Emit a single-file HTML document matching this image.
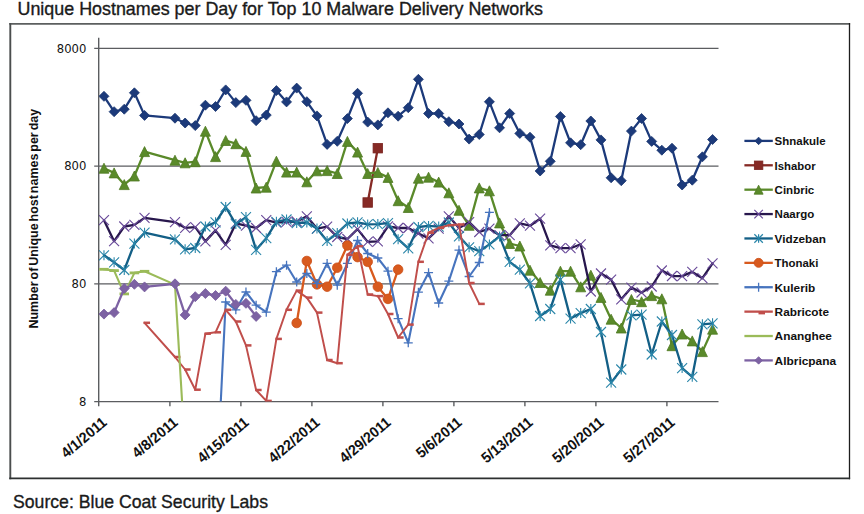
<!DOCTYPE html>
<html><head><meta charset="utf-8"><title>Unique Hostnames per Day</title>
<style>
html,body{margin:0;padding:0;background:#fff;}
body{width:864px;height:514px;overflow:hidden;position:relative;}
svg{position:absolute;left:0;top:0;display:block;}
.t{font-family:"Liberation Sans",Arial,sans-serif;fill:#1a1a1a;}
.yl{font-family:"DejaVu Sans","Liberation Sans",sans-serif;font-size:11.6px;fill:#111;}
.xl{font-family:"Liberation Sans",Arial,sans-serif;font-weight:bold;font-size:14.8px;fill:#111;}
.lg{font-family:"Liberation Sans",Arial,sans-serif;font-weight:bold;font-size:11.4px;fill:#111;}
.at{font-family:"Liberation Sans",Arial,sans-serif;font-weight:bold;font-size:13.6px;word-spacing:-1.6px;fill:#111;}
</style></head>
<body>
<svg width="864" height="514" viewBox="0 0 864 514">
<defs><clipPath id="pa"><rect x="99" y="30" width="620" height="371.6"/></clipPath></defs>
<text class="t" x="17.5" y="14.8" font-size="17.8" stroke="#1a1a1a" stroke-width="0.35" textLength="525.5" lengthAdjust="spacingAndGlyphs">Unique Hostnames per Day for Top 10 Malware Delivery Networks</text>
<line x1="9.3" y1="23.9" x2="850.1" y2="23.9" stroke="#5c5f5f" stroke-width="1.7"/>
<line x1="10.3" y1="23.1" x2="10.3" y2="479.2" stroke="#4b4e4e" stroke-width="1.9"/>
<line x1="849.5" y1="23.1" x2="849.5" y2="479.2" stroke="#1e1e1e" stroke-width="1.3"/>
<line x1="9.3" y1="478.4" x2="850.1" y2="478.4" stroke="#2d3030" stroke-width="1.6"/>
<line x1="94.2" y1="48.35" x2="718.5" y2="48.35" stroke="#5b5d60" stroke-width="1.4"/>
<line x1="94.2" y1="166.1" x2="718.5" y2="166.1" stroke="#5b5d60" stroke-width="1.4"/>
<line x1="94.2" y1="283.85" x2="718.5" y2="283.85" stroke="#5b5d60" stroke-width="1.4"/>
<line x1="94.2" y1="401.6" x2="718.5" y2="401.6" stroke="#5b5d60" stroke-width="1.4"/>
<line x1="98.7" y1="37.8" x2="98.7" y2="406.3" stroke="#5b5d60" stroke-width="1.4"/>
<line x1="169.9" y1="401.6" x2="169.9" y2="406.3" stroke="#5b5d60" stroke-width="1.4"/>
<line x1="240.9" y1="401.6" x2="240.9" y2="406.3" stroke="#5b5d60" stroke-width="1.4"/>
<line x1="311.9" y1="401.6" x2="311.9" y2="406.3" stroke="#5b5d60" stroke-width="1.4"/>
<line x1="382.9" y1="401.6" x2="382.9" y2="406.3" stroke="#5b5d60" stroke-width="1.4"/>
<line x1="453.9" y1="401.6" x2="453.9" y2="406.3" stroke="#5b5d60" stroke-width="1.4"/>
<line x1="524.9" y1="401.6" x2="524.9" y2="406.3" stroke="#5b5d60" stroke-width="1.4"/>
<line x1="595.9" y1="401.6" x2="595.9" y2="406.3" stroke="#5b5d60" stroke-width="1.4"/>
<line x1="666.9" y1="401.6" x2="666.9" y2="406.3" stroke="#5b5d60" stroke-width="1.4"/>
<g class="yl"><text x="86.3" y="52.55" text-anchor="end">8000</text><text x="86.3" y="170.3" text-anchor="end">800</text><text x="86.3" y="288.05" text-anchor="end">80</text><text x="86.3" y="405.8" text-anchor="end">8</text></g>
<text class="at" transform="translate(38.2 328.5) rotate(-90)" textLength="219.7" lengthAdjust="spacingAndGlyphs">Number of Unique host names per day</text>
<g class="xl"><text transform="translate(107.8 424) rotate(-40) scale(1 1.0)" text-anchor="end" textLength="54.1" lengthAdjust="spacingAndGlyphs">4/1/2011</text>
<text transform="translate(178.8 424) rotate(-40) scale(1 1.0)" text-anchor="end" textLength="54.1" lengthAdjust="spacingAndGlyphs">4/8/2011</text>
<text transform="translate(249.8 424) rotate(-40) scale(1 1.0)" text-anchor="end" textLength="61.83" lengthAdjust="spacingAndGlyphs">4/15/2011</text>
<text transform="translate(320.8 424) rotate(-40) scale(1 1.0)" text-anchor="end" textLength="61.83" lengthAdjust="spacingAndGlyphs">4/22/2011</text>
<text transform="translate(391.8 424) rotate(-40) scale(1 1.0)" text-anchor="end" textLength="61.83" lengthAdjust="spacingAndGlyphs">4/29/2011</text>
<text transform="translate(462.8 424) rotate(-40) scale(1 1.0)" text-anchor="end" textLength="54.1" lengthAdjust="spacingAndGlyphs">5/6/2011</text>
<text transform="translate(533.8 424) rotate(-40) scale(1 1.0)" text-anchor="end" textLength="61.83" lengthAdjust="spacingAndGlyphs">5/13/2011</text>
<text transform="translate(604.8 424) rotate(-40) scale(1 1.0)" text-anchor="end" textLength="61.83" lengthAdjust="spacingAndGlyphs">5/20/2011</text>
<text transform="translate(675.8 424) rotate(-40) scale(1 1.0)" text-anchor="end" textLength="61.83" lengthAdjust="spacingAndGlyphs">5/27/2011</text></g>
<g clip-path="url(#pa)"><polyline points="103.97,96.3 114.11,111.7 124.26,109.2 134.4,92.8 144.54,115.4 174.97,118.2 185.11,123 195.26,125.6 205.4,105.2 215.54,106.5 225.69,89.9 235.83,102.6 245.97,100.3 256.12,120.7 266.26,115.1 276.4,90.6 286.54,101.9 296.69,88.1 306.83,101.7 316.97,115.9 327.12,144.4 337.26,141.3 347.4,118.6 357.55,93.3 367.69,122.1 377.83,124.9 387.97,112.8 398.12,116.2 408.26,107.7 418.4,79.3 428.55,113.5 438.69,113.5 448.83,121.7 458.98,124 469.12,139.1 479.26,134.5 489.4,101.8 499.55,127.8 509.69,113.5 519.83,133.4 529.98,137.2 540.12,171 550.26,161.3 560.41,116.5 570.55,142.8 580.69,144.7 590.83,121 600.98,139.9 611.12,177.8 621.26,180.7 631.41,131.1 641.55,118.5 651.69,141.4 661.84,150.2 671.98,148.2 682.12,185 692.26,180.2 702.41,156.8 712.55,139.5" fill="none" stroke="#1c3a7a" stroke-width="2.3" stroke-linejoin="round" stroke-linecap="round"/><path d="M103.97 91.3L108.97 96.3L103.97 101.3L98.97 96.3Z" fill="#1c3a7a" stroke="#1a3670" stroke-width="0.8"/><path d="M114.11 106.7L119.11 111.7L114.11 116.7L109.11 111.7Z" fill="#1c3a7a" stroke="#1a3670" stroke-width="0.8"/><path d="M124.26 104.2L129.26 109.2L124.26 114.2L119.26 109.2Z" fill="#1c3a7a" stroke="#1a3670" stroke-width="0.8"/><path d="M134.4 87.8L139.4 92.8L134.4 97.8L129.4 92.8Z" fill="#1c3a7a" stroke="#1a3670" stroke-width="0.8"/><path d="M144.54 110.4L149.54 115.4L144.54 120.4L139.54 115.4Z" fill="#1c3a7a" stroke="#1a3670" stroke-width="0.8"/><path d="M174.97 113.2L179.97 118.2L174.97 123.2L169.97 118.2Z" fill="#1c3a7a" stroke="#1a3670" stroke-width="0.8"/><path d="M185.11 118L190.11 123L185.11 128L180.11 123Z" fill="#1c3a7a" stroke="#1a3670" stroke-width="0.8"/><path d="M195.26 120.6L200.26 125.6L195.26 130.6L190.26 125.6Z" fill="#1c3a7a" stroke="#1a3670" stroke-width="0.8"/><path d="M205.4 100.2L210.4 105.2L205.4 110.2L200.4 105.2Z" fill="#1c3a7a" stroke="#1a3670" stroke-width="0.8"/><path d="M215.54 101.5L220.54 106.5L215.54 111.5L210.54 106.5Z" fill="#1c3a7a" stroke="#1a3670" stroke-width="0.8"/><path d="M225.69 84.9L230.69 89.9L225.69 94.9L220.69 89.9Z" fill="#1c3a7a" stroke="#1a3670" stroke-width="0.8"/><path d="M235.83 97.6L240.83 102.6L235.83 107.6L230.83 102.6Z" fill="#1c3a7a" stroke="#1a3670" stroke-width="0.8"/><path d="M245.97 95.3L250.97 100.3L245.97 105.3L240.97 100.3Z" fill="#1c3a7a" stroke="#1a3670" stroke-width="0.8"/><path d="M256.12 115.7L261.12 120.7L256.12 125.7L251.12 120.7Z" fill="#1c3a7a" stroke="#1a3670" stroke-width="0.8"/><path d="M266.26 110.1L271.26 115.1L266.26 120.1L261.26 115.1Z" fill="#1c3a7a" stroke="#1a3670" stroke-width="0.8"/><path d="M276.4 85.6L281.4 90.6L276.4 95.6L271.4 90.6Z" fill="#1c3a7a" stroke="#1a3670" stroke-width="0.8"/><path d="M286.54 96.9L291.54 101.9L286.54 106.9L281.54 101.9Z" fill="#1c3a7a" stroke="#1a3670" stroke-width="0.8"/><path d="M296.69 83.1L301.69 88.1L296.69 93.1L291.69 88.1Z" fill="#1c3a7a" stroke="#1a3670" stroke-width="0.8"/><path d="M306.83 96.7L311.83 101.7L306.83 106.7L301.83 101.7Z" fill="#1c3a7a" stroke="#1a3670" stroke-width="0.8"/><path d="M316.97 110.9L321.97 115.9L316.97 120.9L311.97 115.9Z" fill="#1c3a7a" stroke="#1a3670" stroke-width="0.8"/><path d="M327.12 139.4L332.12 144.4L327.12 149.4L322.12 144.4Z" fill="#1c3a7a" stroke="#1a3670" stroke-width="0.8"/><path d="M337.26 136.3L342.26 141.3L337.26 146.3L332.26 141.3Z" fill="#1c3a7a" stroke="#1a3670" stroke-width="0.8"/><path d="M347.4 113.6L352.4 118.6L347.4 123.6L342.4 118.6Z" fill="#1c3a7a" stroke="#1a3670" stroke-width="0.8"/><path d="M357.55 88.3L362.55 93.3L357.55 98.3L352.55 93.3Z" fill="#1c3a7a" stroke="#1a3670" stroke-width="0.8"/><path d="M367.69 117.1L372.69 122.1L367.69 127.1L362.69 122.1Z" fill="#1c3a7a" stroke="#1a3670" stroke-width="0.8"/><path d="M377.83 119.9L382.83 124.9L377.83 129.9L372.83 124.9Z" fill="#1c3a7a" stroke="#1a3670" stroke-width="0.8"/><path d="M387.97 107.8L392.97 112.8L387.97 117.8L382.97 112.8Z" fill="#1c3a7a" stroke="#1a3670" stroke-width="0.8"/><path d="M398.12 111.2L403.12 116.2L398.12 121.2L393.12 116.2Z" fill="#1c3a7a" stroke="#1a3670" stroke-width="0.8"/><path d="M408.26 102.7L413.26 107.7L408.26 112.7L403.26 107.7Z" fill="#1c3a7a" stroke="#1a3670" stroke-width="0.8"/><path d="M418.4 74.3L423.4 79.3L418.4 84.3L413.4 79.3Z" fill="#1c3a7a" stroke="#1a3670" stroke-width="0.8"/><path d="M428.55 108.5L433.55 113.5L428.55 118.5L423.55 113.5Z" fill="#1c3a7a" stroke="#1a3670" stroke-width="0.8"/><path d="M438.69 108.5L443.69 113.5L438.69 118.5L433.69 113.5Z" fill="#1c3a7a" stroke="#1a3670" stroke-width="0.8"/><path d="M448.83 116.7L453.83 121.7L448.83 126.7L443.83 121.7Z" fill="#1c3a7a" stroke="#1a3670" stroke-width="0.8"/><path d="M458.98 119L463.98 124L458.98 129L453.98 124Z" fill="#1c3a7a" stroke="#1a3670" stroke-width="0.8"/><path d="M469.12 134.1L474.12 139.1L469.12 144.1L464.12 139.1Z" fill="#1c3a7a" stroke="#1a3670" stroke-width="0.8"/><path d="M479.26 129.5L484.26 134.5L479.26 139.5L474.26 134.5Z" fill="#1c3a7a" stroke="#1a3670" stroke-width="0.8"/><path d="M489.4 96.8L494.4 101.8L489.4 106.8L484.4 101.8Z" fill="#1c3a7a" stroke="#1a3670" stroke-width="0.8"/><path d="M499.55 122.8L504.55 127.8L499.55 132.8L494.55 127.8Z" fill="#1c3a7a" stroke="#1a3670" stroke-width="0.8"/><path d="M509.69 108.5L514.69 113.5L509.69 118.5L504.69 113.5Z" fill="#1c3a7a" stroke="#1a3670" stroke-width="0.8"/><path d="M519.83 128.4L524.83 133.4L519.83 138.4L514.83 133.4Z" fill="#1c3a7a" stroke="#1a3670" stroke-width="0.8"/><path d="M529.98 132.2L534.98 137.2L529.98 142.2L524.98 137.2Z" fill="#1c3a7a" stroke="#1a3670" stroke-width="0.8"/><path d="M540.12 166L545.12 171L540.12 176L535.12 171Z" fill="#1c3a7a" stroke="#1a3670" stroke-width="0.8"/><path d="M550.26 156.3L555.26 161.3L550.26 166.3L545.26 161.3Z" fill="#1c3a7a" stroke="#1a3670" stroke-width="0.8"/><path d="M560.41 111.5L565.41 116.5L560.41 121.5L555.41 116.5Z" fill="#1c3a7a" stroke="#1a3670" stroke-width="0.8"/><path d="M570.55 137.8L575.55 142.8L570.55 147.8L565.55 142.8Z" fill="#1c3a7a" stroke="#1a3670" stroke-width="0.8"/><path d="M580.69 139.7L585.69 144.7L580.69 149.7L575.69 144.7Z" fill="#1c3a7a" stroke="#1a3670" stroke-width="0.8"/><path d="M590.83 116L595.83 121L590.83 126L585.83 121Z" fill="#1c3a7a" stroke="#1a3670" stroke-width="0.8"/><path d="M600.98 134.9L605.98 139.9L600.98 144.9L595.98 139.9Z" fill="#1c3a7a" stroke="#1a3670" stroke-width="0.8"/><path d="M611.12 172.8L616.12 177.8L611.12 182.8L606.12 177.8Z" fill="#1c3a7a" stroke="#1a3670" stroke-width="0.8"/><path d="M621.26 175.7L626.26 180.7L621.26 185.7L616.26 180.7Z" fill="#1c3a7a" stroke="#1a3670" stroke-width="0.8"/><path d="M631.41 126.1L636.41 131.1L631.41 136.1L626.41 131.1Z" fill="#1c3a7a" stroke="#1a3670" stroke-width="0.8"/><path d="M641.55 113.5L646.55 118.5L641.55 123.5L636.55 118.5Z" fill="#1c3a7a" stroke="#1a3670" stroke-width="0.8"/><path d="M651.69 136.4L656.69 141.4L651.69 146.4L646.69 141.4Z" fill="#1c3a7a" stroke="#1a3670" stroke-width="0.8"/><path d="M661.84 145.2L666.84 150.2L661.84 155.2L656.84 150.2Z" fill="#1c3a7a" stroke="#1a3670" stroke-width="0.8"/><path d="M671.98 143.2L676.98 148.2L671.98 153.2L666.98 148.2Z" fill="#1c3a7a" stroke="#1a3670" stroke-width="0.8"/><path d="M682.12 180L687.12 185L682.12 190L677.12 185Z" fill="#1c3a7a" stroke="#1a3670" stroke-width="0.8"/><path d="M692.26 175.2L697.26 180.2L692.26 185.2L687.26 180.2Z" fill="#1c3a7a" stroke="#1a3670" stroke-width="0.8"/><path d="M702.41 151.8L707.41 156.8L702.41 161.8L697.41 156.8Z" fill="#1c3a7a" stroke="#1a3670" stroke-width="0.8"/><path d="M712.55 134.5L717.55 139.5L712.55 144.5L707.55 139.5Z" fill="#1c3a7a" stroke="#1a3670" stroke-width="0.8"/>
<polyline points="367.69,202.5 377.83,148.2" fill="none" stroke="#862a25" stroke-width="2.3" stroke-linejoin="round" stroke-linecap="round"/><rect x="362.94" y="197.75" width="9.5" height="9.5" fill="#862a25" stroke="#7a2420" stroke-width="0.8"/><rect x="373.08" y="143.45" width="9.5" height="9.5" fill="#862a25" stroke="#7a2420" stroke-width="0.8"/>
<polyline points="103.97,168.2 114.11,172.9 124.26,184.6 134.4,176 144.54,151.6 174.97,160.2 185.11,162.8 195.26,161.7 205.4,131.2 215.54,156.6 225.69,140.5 235.83,143.7 245.97,151.4 256.12,188 266.26,187.2 276.4,161.2 286.54,172.1 296.69,172.1 306.83,181.8 316.97,170.8 327.12,170.6 337.26,173.5 347.4,141.4 357.55,152.1 367.69,173.5 377.83,172.5 387.97,177.4 398.12,200.7 408.26,207.5 418.4,178.2 428.55,177.2 438.69,182.1 448.83,192.8 458.98,210.3 469.12,225.3 479.26,187.9 489.4,190.8 499.55,222.9 509.69,243.5 519.83,246 529.98,270.2 540.12,282.5 550.26,290.2 560.41,271.2 570.55,271.2 580.69,286.8 590.83,275.2 600.98,297.4 611.12,319.2 621.26,328 631.41,299.5 641.55,301.7 651.69,295.6 661.84,298.8 671.98,345.7 682.12,334 692.26,340.9 702.41,351.6 712.55,329.2" fill="none" stroke="#5a8a2a" stroke-width="2.3" stroke-linejoin="round" stroke-linecap="round"/><path d="M103.97 163.2L108.97 173.2L98.97 173.2Z" fill="#5a8a2a" stroke="#4f7a22" stroke-width="0.8" stroke-linejoin="round"/><path d="M114.11 167.9L119.11 177.9L109.11 177.9Z" fill="#5a8a2a" stroke="#4f7a22" stroke-width="0.8" stroke-linejoin="round"/><path d="M124.26 179.6L129.26 189.6L119.26 189.6Z" fill="#5a8a2a" stroke="#4f7a22" stroke-width="0.8" stroke-linejoin="round"/><path d="M134.4 171L139.4 181L129.4 181Z" fill="#5a8a2a" stroke="#4f7a22" stroke-width="0.8" stroke-linejoin="round"/><path d="M144.54 146.6L149.54 156.6L139.54 156.6Z" fill="#5a8a2a" stroke="#4f7a22" stroke-width="0.8" stroke-linejoin="round"/><path d="M174.97 155.2L179.97 165.2L169.97 165.2Z" fill="#5a8a2a" stroke="#4f7a22" stroke-width="0.8" stroke-linejoin="round"/><path d="M185.11 157.8L190.11 167.8L180.11 167.8Z" fill="#5a8a2a" stroke="#4f7a22" stroke-width="0.8" stroke-linejoin="round"/><path d="M195.26 156.7L200.26 166.7L190.26 166.7Z" fill="#5a8a2a" stroke="#4f7a22" stroke-width="0.8" stroke-linejoin="round"/><path d="M205.4 126.2L210.4 136.2L200.4 136.2Z" fill="#5a8a2a" stroke="#4f7a22" stroke-width="0.8" stroke-linejoin="round"/><path d="M215.54 151.6L220.54 161.6L210.54 161.6Z" fill="#5a8a2a" stroke="#4f7a22" stroke-width="0.8" stroke-linejoin="round"/><path d="M225.69 135.5L230.69 145.5L220.69 145.5Z" fill="#5a8a2a" stroke="#4f7a22" stroke-width="0.8" stroke-linejoin="round"/><path d="M235.83 138.7L240.83 148.7L230.83 148.7Z" fill="#5a8a2a" stroke="#4f7a22" stroke-width="0.8" stroke-linejoin="round"/><path d="M245.97 146.4L250.97 156.4L240.97 156.4Z" fill="#5a8a2a" stroke="#4f7a22" stroke-width="0.8" stroke-linejoin="round"/><path d="M256.12 183L261.12 193L251.12 193Z" fill="#5a8a2a" stroke="#4f7a22" stroke-width="0.8" stroke-linejoin="round"/><path d="M266.26 182.2L271.26 192.2L261.26 192.2Z" fill="#5a8a2a" stroke="#4f7a22" stroke-width="0.8" stroke-linejoin="round"/><path d="M276.4 156.2L281.4 166.2L271.4 166.2Z" fill="#5a8a2a" stroke="#4f7a22" stroke-width="0.8" stroke-linejoin="round"/><path d="M286.54 167.1L291.54 177.1L281.54 177.1Z" fill="#5a8a2a" stroke="#4f7a22" stroke-width="0.8" stroke-linejoin="round"/><path d="M296.69 167.1L301.69 177.1L291.69 177.1Z" fill="#5a8a2a" stroke="#4f7a22" stroke-width="0.8" stroke-linejoin="round"/><path d="M306.83 176.8L311.83 186.8L301.83 186.8Z" fill="#5a8a2a" stroke="#4f7a22" stroke-width="0.8" stroke-linejoin="round"/><path d="M316.97 165.8L321.97 175.8L311.97 175.8Z" fill="#5a8a2a" stroke="#4f7a22" stroke-width="0.8" stroke-linejoin="round"/><path d="M327.12 165.6L332.12 175.6L322.12 175.6Z" fill="#5a8a2a" stroke="#4f7a22" stroke-width="0.8" stroke-linejoin="round"/><path d="M337.26 168.5L342.26 178.5L332.26 178.5Z" fill="#5a8a2a" stroke="#4f7a22" stroke-width="0.8" stroke-linejoin="round"/><path d="M347.4 136.4L352.4 146.4L342.4 146.4Z" fill="#5a8a2a" stroke="#4f7a22" stroke-width="0.8" stroke-linejoin="round"/><path d="M357.55 147.1L362.55 157.1L352.55 157.1Z" fill="#5a8a2a" stroke="#4f7a22" stroke-width="0.8" stroke-linejoin="round"/><path d="M367.69 168.5L372.69 178.5L362.69 178.5Z" fill="#5a8a2a" stroke="#4f7a22" stroke-width="0.8" stroke-linejoin="round"/><path d="M377.83 167.5L382.83 177.5L372.83 177.5Z" fill="#5a8a2a" stroke="#4f7a22" stroke-width="0.8" stroke-linejoin="round"/><path d="M387.97 172.4L392.97 182.4L382.97 182.4Z" fill="#5a8a2a" stroke="#4f7a22" stroke-width="0.8" stroke-linejoin="round"/><path d="M398.12 195.7L403.12 205.7L393.12 205.7Z" fill="#5a8a2a" stroke="#4f7a22" stroke-width="0.8" stroke-linejoin="round"/><path d="M408.26 202.5L413.26 212.5L403.26 212.5Z" fill="#5a8a2a" stroke="#4f7a22" stroke-width="0.8" stroke-linejoin="round"/><path d="M418.4 173.2L423.4 183.2L413.4 183.2Z" fill="#5a8a2a" stroke="#4f7a22" stroke-width="0.8" stroke-linejoin="round"/><path d="M428.55 172.2L433.55 182.2L423.55 182.2Z" fill="#5a8a2a" stroke="#4f7a22" stroke-width="0.8" stroke-linejoin="round"/><path d="M438.69 177.1L443.69 187.1L433.69 187.1Z" fill="#5a8a2a" stroke="#4f7a22" stroke-width="0.8" stroke-linejoin="round"/><path d="M448.83 187.8L453.83 197.8L443.83 197.8Z" fill="#5a8a2a" stroke="#4f7a22" stroke-width="0.8" stroke-linejoin="round"/><path d="M458.98 205.3L463.98 215.3L453.98 215.3Z" fill="#5a8a2a" stroke="#4f7a22" stroke-width="0.8" stroke-linejoin="round"/><path d="M469.12 220.3L474.12 230.3L464.12 230.3Z" fill="#5a8a2a" stroke="#4f7a22" stroke-width="0.8" stroke-linejoin="round"/><path d="M479.26 182.9L484.26 192.9L474.26 192.9Z" fill="#5a8a2a" stroke="#4f7a22" stroke-width="0.8" stroke-linejoin="round"/><path d="M489.4 185.8L494.4 195.8L484.4 195.8Z" fill="#5a8a2a" stroke="#4f7a22" stroke-width="0.8" stroke-linejoin="round"/><path d="M499.55 217.9L504.55 227.9L494.55 227.9Z" fill="#5a8a2a" stroke="#4f7a22" stroke-width="0.8" stroke-linejoin="round"/><path d="M509.69 238.5L514.69 248.5L504.69 248.5Z" fill="#5a8a2a" stroke="#4f7a22" stroke-width="0.8" stroke-linejoin="round"/><path d="M519.83 241L524.83 251L514.83 251Z" fill="#5a8a2a" stroke="#4f7a22" stroke-width="0.8" stroke-linejoin="round"/><path d="M529.98 265.2L534.98 275.2L524.98 275.2Z" fill="#5a8a2a" stroke="#4f7a22" stroke-width="0.8" stroke-linejoin="round"/><path d="M540.12 277.5L545.12 287.5L535.12 287.5Z" fill="#5a8a2a" stroke="#4f7a22" stroke-width="0.8" stroke-linejoin="round"/><path d="M550.26 285.2L555.26 295.2L545.26 295.2Z" fill="#5a8a2a" stroke="#4f7a22" stroke-width="0.8" stroke-linejoin="round"/><path d="M560.41 266.2L565.41 276.2L555.41 276.2Z" fill="#5a8a2a" stroke="#4f7a22" stroke-width="0.8" stroke-linejoin="round"/><path d="M570.55 266.2L575.55 276.2L565.55 276.2Z" fill="#5a8a2a" stroke="#4f7a22" stroke-width="0.8" stroke-linejoin="round"/><path d="M580.69 281.8L585.69 291.8L575.69 291.8Z" fill="#5a8a2a" stroke="#4f7a22" stroke-width="0.8" stroke-linejoin="round"/><path d="M590.83 270.2L595.83 280.2L585.83 280.2Z" fill="#5a8a2a" stroke="#4f7a22" stroke-width="0.8" stroke-linejoin="round"/><path d="M600.98 292.4L605.98 302.4L595.98 302.4Z" fill="#5a8a2a" stroke="#4f7a22" stroke-width="0.8" stroke-linejoin="round"/><path d="M611.12 314.2L616.12 324.2L606.12 324.2Z" fill="#5a8a2a" stroke="#4f7a22" stroke-width="0.8" stroke-linejoin="round"/><path d="M621.26 323L626.26 333L616.26 333Z" fill="#5a8a2a" stroke="#4f7a22" stroke-width="0.8" stroke-linejoin="round"/><path d="M631.41 294.5L636.41 304.5L626.41 304.5Z" fill="#5a8a2a" stroke="#4f7a22" stroke-width="0.8" stroke-linejoin="round"/><path d="M641.55 296.7L646.55 306.7L636.55 306.7Z" fill="#5a8a2a" stroke="#4f7a22" stroke-width="0.8" stroke-linejoin="round"/><path d="M651.69 290.6L656.69 300.6L646.69 300.6Z" fill="#5a8a2a" stroke="#4f7a22" stroke-width="0.8" stroke-linejoin="round"/><path d="M661.84 293.8L666.84 303.8L656.84 303.8Z" fill="#5a8a2a" stroke="#4f7a22" stroke-width="0.8" stroke-linejoin="round"/><path d="M671.98 340.7L676.98 350.7L666.98 350.7Z" fill="#5a8a2a" stroke="#4f7a22" stroke-width="0.8" stroke-linejoin="round"/><path d="M682.12 329L687.12 339L677.12 339Z" fill="#5a8a2a" stroke="#4f7a22" stroke-width="0.8" stroke-linejoin="round"/><path d="M692.26 335.9L697.26 345.9L687.26 345.9Z" fill="#5a8a2a" stroke="#4f7a22" stroke-width="0.8" stroke-linejoin="round"/><path d="M702.41 346.6L707.41 356.6L697.41 356.6Z" fill="#5a8a2a" stroke="#4f7a22" stroke-width="0.8" stroke-linejoin="round"/><path d="M712.55 324.2L717.55 334.2L707.55 334.2Z" fill="#5a8a2a" stroke="#4f7a22" stroke-width="0.8" stroke-linejoin="round"/>
<polyline points="103.97,220.2 114.11,241.2 124.26,226.5 134.4,224.9 144.54,217.9 174.97,222.2 185.11,227.8 195.26,227.1 205.4,241.4 215.54,230.4 225.69,244.8 235.83,223.4 245.97,225.7 256.12,228 266.26,220.2 276.4,222.6 286.54,221.8 296.69,221.5 306.83,216.4 316.97,228.6 327.12,226.7 337.26,237 347.4,239 357.55,229.1 367.69,241.9 377.83,241.4 387.97,226.4 398.12,228 408.26,228 418.4,233.5 428.55,238.3 438.69,228.6 448.83,216.3 458.98,227.9 469.12,222.2 479.26,232 489.4,228.7 499.55,235.2 509.69,235.2 519.83,223.4 529.98,225.7 540.12,218.7 550.26,245.3 560.41,248.2 570.55,248.2 580.69,244.3 590.83,291.5 600.98,273.5 611.12,279.6 621.26,299.3 631.41,287.6 641.55,292.5 651.69,286.5 661.84,270.5 671.98,276 682.12,276.1 692.26,271.9 702.41,278.2 712.55,263.4" fill="none" stroke="#28174d" stroke-width="2.3" stroke-linejoin="round" stroke-linecap="round"/><path d="M98.97 215.2L108.97 225.2M108.97 215.2L98.97 225.2" stroke="#6a4b9a" stroke-width="1.15" fill="none"/><path d="M109.11 236.2L119.11 246.2M119.11 236.2L109.11 246.2" stroke="#6a4b9a" stroke-width="1.15" fill="none"/><path d="M119.26 221.5L129.26 231.5M129.26 221.5L119.26 231.5" stroke="#6a4b9a" stroke-width="1.15" fill="none"/><path d="M129.4 219.9L139.4 229.9M139.4 219.9L129.4 229.9" stroke="#6a4b9a" stroke-width="1.15" fill="none"/><path d="M139.54 212.9L149.54 222.9M149.54 212.9L139.54 222.9" stroke="#6a4b9a" stroke-width="1.15" fill="none"/><path d="M169.97 217.2L179.97 227.2M179.97 217.2L169.97 227.2" stroke="#6a4b9a" stroke-width="1.15" fill="none"/><path d="M180.11 222.8L190.11 232.8M190.11 222.8L180.11 232.8" stroke="#6a4b9a" stroke-width="1.15" fill="none"/><path d="M190.26 222.1L200.26 232.1M200.26 222.1L190.26 232.1" stroke="#6a4b9a" stroke-width="1.15" fill="none"/><path d="M200.4 236.4L210.4 246.4M210.4 236.4L200.4 246.4" stroke="#6a4b9a" stroke-width="1.15" fill="none"/><path d="M210.54 225.4L220.54 235.4M220.54 225.4L210.54 235.4" stroke="#6a4b9a" stroke-width="1.15" fill="none"/><path d="M220.69 239.8L230.69 249.8M230.69 239.8L220.69 249.8" stroke="#6a4b9a" stroke-width="1.15" fill="none"/><path d="M230.83 218.4L240.83 228.4M240.83 218.4L230.83 228.4" stroke="#6a4b9a" stroke-width="1.15" fill="none"/><path d="M240.97 220.7L250.97 230.7M250.97 220.7L240.97 230.7" stroke="#6a4b9a" stroke-width="1.15" fill="none"/><path d="M251.12 223L261.12 233M261.12 223L251.12 233" stroke="#6a4b9a" stroke-width="1.15" fill="none"/><path d="M261.26 215.2L271.26 225.2M271.26 215.2L261.26 225.2" stroke="#6a4b9a" stroke-width="1.15" fill="none"/><path d="M271.4 217.6L281.4 227.6M281.4 217.6L271.4 227.6" stroke="#6a4b9a" stroke-width="1.15" fill="none"/><path d="M281.54 216.8L291.54 226.8M291.54 216.8L281.54 226.8" stroke="#6a4b9a" stroke-width="1.15" fill="none"/><path d="M291.69 216.5L301.69 226.5M301.69 216.5L291.69 226.5" stroke="#6a4b9a" stroke-width="1.15" fill="none"/><path d="M301.83 211.4L311.83 221.4M311.83 211.4L301.83 221.4" stroke="#6a4b9a" stroke-width="1.15" fill="none"/><path d="M311.97 223.6L321.97 233.6M321.97 223.6L311.97 233.6" stroke="#6a4b9a" stroke-width="1.15" fill="none"/><path d="M322.12 221.7L332.12 231.7M332.12 221.7L322.12 231.7" stroke="#6a4b9a" stroke-width="1.15" fill="none"/><path d="M332.26 232L342.26 242M342.26 232L332.26 242" stroke="#6a4b9a" stroke-width="1.15" fill="none"/><path d="M342.4 234L352.4 244M352.4 234L342.4 244" stroke="#6a4b9a" stroke-width="1.15" fill="none"/><path d="M352.55 224.1L362.55 234.1M362.55 224.1L352.55 234.1" stroke="#6a4b9a" stroke-width="1.15" fill="none"/><path d="M362.69 236.9L372.69 246.9M372.69 236.9L362.69 246.9" stroke="#6a4b9a" stroke-width="1.15" fill="none"/><path d="M372.83 236.4L382.83 246.4M382.83 236.4L372.83 246.4" stroke="#6a4b9a" stroke-width="1.15" fill="none"/><path d="M382.97 221.4L392.97 231.4M392.97 221.4L382.97 231.4" stroke="#6a4b9a" stroke-width="1.15" fill="none"/><path d="M393.12 223L403.12 233M403.12 223L393.12 233" stroke="#6a4b9a" stroke-width="1.15" fill="none"/><path d="M403.26 223L413.26 233M413.26 223L403.26 233" stroke="#6a4b9a" stroke-width="1.15" fill="none"/><path d="M413.4 228.5L423.4 238.5M423.4 228.5L413.4 238.5" stroke="#6a4b9a" stroke-width="1.15" fill="none"/><path d="M423.55 233.3L433.55 243.3M433.55 233.3L423.55 243.3" stroke="#6a4b9a" stroke-width="1.15" fill="none"/><path d="M433.69 223.6L443.69 233.6M443.69 223.6L433.69 233.6" stroke="#6a4b9a" stroke-width="1.15" fill="none"/><path d="M443.83 211.3L453.83 221.3M453.83 211.3L443.83 221.3" stroke="#6a4b9a" stroke-width="1.15" fill="none"/><path d="M453.98 222.9L463.98 232.9M463.98 222.9L453.98 232.9" stroke="#6a4b9a" stroke-width="1.15" fill="none"/><path d="M464.12 217.2L474.12 227.2M474.12 217.2L464.12 227.2" stroke="#6a4b9a" stroke-width="1.15" fill="none"/><path d="M474.26 227L484.26 237M484.26 227L474.26 237" stroke="#6a4b9a" stroke-width="1.15" fill="none"/><path d="M484.4 223.7L494.4 233.7M494.4 223.7L484.4 233.7" stroke="#6a4b9a" stroke-width="1.15" fill="none"/><path d="M494.55 230.2L504.55 240.2M504.55 230.2L494.55 240.2" stroke="#6a4b9a" stroke-width="1.15" fill="none"/><path d="M504.69 230.2L514.69 240.2M514.69 230.2L504.69 240.2" stroke="#6a4b9a" stroke-width="1.15" fill="none"/><path d="M514.83 218.4L524.83 228.4M524.83 218.4L514.83 228.4" stroke="#6a4b9a" stroke-width="1.15" fill="none"/><path d="M524.98 220.7L534.98 230.7M534.98 220.7L524.98 230.7" stroke="#6a4b9a" stroke-width="1.15" fill="none"/><path d="M535.12 213.7L545.12 223.7M545.12 213.7L535.12 223.7" stroke="#6a4b9a" stroke-width="1.15" fill="none"/><path d="M545.26 240.3L555.26 250.3M555.26 240.3L545.26 250.3" stroke="#6a4b9a" stroke-width="1.15" fill="none"/><path d="M555.41 243.2L565.41 253.2M565.41 243.2L555.41 253.2" stroke="#6a4b9a" stroke-width="1.15" fill="none"/><path d="M565.55 243.2L575.55 253.2M575.55 243.2L565.55 253.2" stroke="#6a4b9a" stroke-width="1.15" fill="none"/><path d="M575.69 239.3L585.69 249.3M585.69 239.3L575.69 249.3" stroke="#6a4b9a" stroke-width="1.15" fill="none"/><path d="M585.83 286.5L595.83 296.5M595.83 286.5L585.83 296.5" stroke="#6a4b9a" stroke-width="1.15" fill="none"/><path d="M595.98 268.5L605.98 278.5M605.98 268.5L595.98 278.5" stroke="#6a4b9a" stroke-width="1.15" fill="none"/><path d="M606.12 274.6L616.12 284.6M616.12 274.6L606.12 284.6" stroke="#6a4b9a" stroke-width="1.15" fill="none"/><path d="M616.26 294.3L626.26 304.3M626.26 294.3L616.26 304.3" stroke="#6a4b9a" stroke-width="1.15" fill="none"/><path d="M626.41 282.6L636.41 292.6M636.41 282.6L626.41 292.6" stroke="#6a4b9a" stroke-width="1.15" fill="none"/><path d="M636.55 287.5L646.55 297.5M646.55 287.5L636.55 297.5" stroke="#6a4b9a" stroke-width="1.15" fill="none"/><path d="M646.69 281.5L656.69 291.5M656.69 281.5L646.69 291.5" stroke="#6a4b9a" stroke-width="1.15" fill="none"/><path d="M656.84 265.5L666.84 275.5M666.84 265.5L656.84 275.5" stroke="#6a4b9a" stroke-width="1.15" fill="none"/><path d="M666.98 271L676.98 281M676.98 271L666.98 281" stroke="#6a4b9a" stroke-width="1.15" fill="none"/><path d="M677.12 271.1L687.12 281.1M687.12 271.1L677.12 281.1" stroke="#6a4b9a" stroke-width="1.15" fill="none"/><path d="M687.26 266.9L697.26 276.9M697.26 266.9L687.26 276.9" stroke="#6a4b9a" stroke-width="1.15" fill="none"/><path d="M697.41 273.2L707.41 283.2M707.41 273.2L697.41 283.2" stroke="#6a4b9a" stroke-width="1.15" fill="none"/><path d="M707.55 258.4L717.55 268.4M717.55 258.4L707.55 268.4" stroke="#6a4b9a" stroke-width="1.15" fill="none"/>
<polyline points="103.97,255.3 114.11,262.3 124.26,270 134.4,243.6 144.54,232.7 174.97,239.4 185.11,249.3 195.26,248 205.4,226.5 215.54,222.3 225.69,207 235.83,224.1 245.97,217.1 256.12,249.8 266.26,238.2 276.4,221.8 286.54,219.5 296.69,223 306.83,222.5 316.97,228.6 327.12,240.9 337.26,233.1 347.4,223.5 357.55,222.3 367.69,224.4 377.83,224.1 387.97,223.2 398.12,239.2 408.26,248.3 418.4,227 428.55,225.9 438.69,226.6 448.83,222.5 458.98,236.3 469.12,247.3 479.26,251.2 489.4,244.4 499.55,236.4 509.69,261.9 519.83,269.7 529.98,283.3 540.12,316 550.26,309 560.41,279.6 570.55,318.6 580.69,313.1 590.83,309 600.98,332 611.12,382.6 621.26,369.5 631.41,315.3 641.55,314.6 651.69,354.5 661.84,321.5 671.98,335 682.12,368.1 692.26,376.8 702.41,324.3 712.55,323.3" fill="none" stroke="#135f86" stroke-width="2.3" stroke-linejoin="round" stroke-linecap="round"/><path d="M98.97 250.3L108.97 260.3M108.97 250.3L98.97 260.3M103.97 250.3L103.97 260.3" stroke="#2a86a9" stroke-width="1.1" fill="none"/><path d="M109.11 257.3L119.11 267.3M119.11 257.3L109.11 267.3M114.11 257.3L114.11 267.3" stroke="#2a86a9" stroke-width="1.1" fill="none"/><path d="M119.26 265L129.26 275M129.26 265L119.26 275M124.26 265L124.26 275" stroke="#2a86a9" stroke-width="1.1" fill="none"/><path d="M129.4 238.6L139.4 248.6M139.4 238.6L129.4 248.6M134.4 238.6L134.4 248.6" stroke="#2a86a9" stroke-width="1.1" fill="none"/><path d="M139.54 227.7L149.54 237.7M149.54 227.7L139.54 237.7M144.54 227.7L144.54 237.7" stroke="#2a86a9" stroke-width="1.1" fill="none"/><path d="M169.97 234.4L179.97 244.4M179.97 234.4L169.97 244.4M174.97 234.4L174.97 244.4" stroke="#2a86a9" stroke-width="1.1" fill="none"/><path d="M180.11 244.3L190.11 254.3M190.11 244.3L180.11 254.3M185.11 244.3L185.11 254.3" stroke="#2a86a9" stroke-width="1.1" fill="none"/><path d="M190.26 243L200.26 253M200.26 243L190.26 253M195.26 243L195.26 253" stroke="#2a86a9" stroke-width="1.1" fill="none"/><path d="M200.4 221.5L210.4 231.5M210.4 221.5L200.4 231.5M205.4 221.5L205.4 231.5" stroke="#2a86a9" stroke-width="1.1" fill="none"/><path d="M210.54 217.3L220.54 227.3M220.54 217.3L210.54 227.3M215.54 217.3L215.54 227.3" stroke="#2a86a9" stroke-width="1.1" fill="none"/><path d="M220.69 202L230.69 212M230.69 202L220.69 212M225.69 202L225.69 212" stroke="#2a86a9" stroke-width="1.1" fill="none"/><path d="M230.83 219.1L240.83 229.1M240.83 219.1L230.83 229.1M235.83 219.1L235.83 229.1" stroke="#2a86a9" stroke-width="1.1" fill="none"/><path d="M240.97 212.1L250.97 222.1M250.97 212.1L240.97 222.1M245.97 212.1L245.97 222.1" stroke="#2a86a9" stroke-width="1.1" fill="none"/><path d="M251.12 244.8L261.12 254.8M261.12 244.8L251.12 254.8M256.12 244.8L256.12 254.8" stroke="#2a86a9" stroke-width="1.1" fill="none"/><path d="M261.26 233.2L271.26 243.2M271.26 233.2L261.26 243.2M266.26 233.2L266.26 243.2" stroke="#2a86a9" stroke-width="1.1" fill="none"/><path d="M271.4 216.8L281.4 226.8M281.4 216.8L271.4 226.8M276.4 216.8L276.4 226.8" stroke="#2a86a9" stroke-width="1.1" fill="none"/><path d="M281.54 214.5L291.54 224.5M291.54 214.5L281.54 224.5M286.54 214.5L286.54 224.5" stroke="#2a86a9" stroke-width="1.1" fill="none"/><path d="M291.69 218L301.69 228M301.69 218L291.69 228M296.69 218L296.69 228" stroke="#2a86a9" stroke-width="1.1" fill="none"/><path d="M301.83 217.5L311.83 227.5M311.83 217.5L301.83 227.5M306.83 217.5L306.83 227.5" stroke="#2a86a9" stroke-width="1.1" fill="none"/><path d="M311.97 223.6L321.97 233.6M321.97 223.6L311.97 233.6M316.97 223.6L316.97 233.6" stroke="#2a86a9" stroke-width="1.1" fill="none"/><path d="M322.12 235.9L332.12 245.9M332.12 235.9L322.12 245.9M327.12 235.9L327.12 245.9" stroke="#2a86a9" stroke-width="1.1" fill="none"/><path d="M332.26 228.1L342.26 238.1M342.26 228.1L332.26 238.1M337.26 228.1L337.26 238.1" stroke="#2a86a9" stroke-width="1.1" fill="none"/><path d="M342.4 218.5L352.4 228.5M352.4 218.5L342.4 228.5M347.4 218.5L347.4 228.5" stroke="#2a86a9" stroke-width="1.1" fill="none"/><path d="M352.55 217.3L362.55 227.3M362.55 217.3L352.55 227.3M357.55 217.3L357.55 227.3" stroke="#2a86a9" stroke-width="1.1" fill="none"/><path d="M362.69 219.4L372.69 229.4M372.69 219.4L362.69 229.4M367.69 219.4L367.69 229.4" stroke="#2a86a9" stroke-width="1.1" fill="none"/><path d="M372.83 219.1L382.83 229.1M382.83 219.1L372.83 229.1M377.83 219.1L377.83 229.1" stroke="#2a86a9" stroke-width="1.1" fill="none"/><path d="M382.97 218.2L392.97 228.2M392.97 218.2L382.97 228.2M387.97 218.2L387.97 228.2" stroke="#2a86a9" stroke-width="1.1" fill="none"/><path d="M393.12 234.2L403.12 244.2M403.12 234.2L393.12 244.2M398.12 234.2L398.12 244.2" stroke="#2a86a9" stroke-width="1.1" fill="none"/><path d="M403.26 243.3L413.26 253.3M413.26 243.3L403.26 253.3M408.26 243.3L408.26 253.3" stroke="#2a86a9" stroke-width="1.1" fill="none"/><path d="M413.4 222L423.4 232M423.4 222L413.4 232M418.4 222L418.4 232" stroke="#2a86a9" stroke-width="1.1" fill="none"/><path d="M423.55 220.9L433.55 230.9M433.55 220.9L423.55 230.9M428.55 220.9L428.55 230.9" stroke="#2a86a9" stroke-width="1.1" fill="none"/><path d="M433.69 221.6L443.69 231.6M443.69 221.6L433.69 231.6M438.69 221.6L438.69 231.6" stroke="#2a86a9" stroke-width="1.1" fill="none"/><path d="M443.83 217.5L453.83 227.5M453.83 217.5L443.83 227.5M448.83 217.5L448.83 227.5" stroke="#2a86a9" stroke-width="1.1" fill="none"/><path d="M453.98 231.3L463.98 241.3M463.98 231.3L453.98 241.3M458.98 231.3L458.98 241.3" stroke="#2a86a9" stroke-width="1.1" fill="none"/><path d="M464.12 242.3L474.12 252.3M474.12 242.3L464.12 252.3M469.12 242.3L469.12 252.3" stroke="#2a86a9" stroke-width="1.1" fill="none"/><path d="M474.26 246.2L484.26 256.2M484.26 246.2L474.26 256.2M479.26 246.2L479.26 256.2" stroke="#2a86a9" stroke-width="1.1" fill="none"/><path d="M484.4 239.4L494.4 249.4M494.4 239.4L484.4 249.4M489.4 239.4L489.4 249.4" stroke="#2a86a9" stroke-width="1.1" fill="none"/><path d="M494.55 231.4L504.55 241.4M504.55 231.4L494.55 241.4M499.55 231.4L499.55 241.4" stroke="#2a86a9" stroke-width="1.1" fill="none"/><path d="M504.69 256.9L514.69 266.9M514.69 256.9L504.69 266.9M509.69 256.9L509.69 266.9" stroke="#2a86a9" stroke-width="1.1" fill="none"/><path d="M514.83 264.7L524.83 274.7M524.83 264.7L514.83 274.7M519.83 264.7L519.83 274.7" stroke="#2a86a9" stroke-width="1.1" fill="none"/><path d="M524.98 278.3L534.98 288.3M534.98 278.3L524.98 288.3M529.98 278.3L529.98 288.3" stroke="#2a86a9" stroke-width="1.1" fill="none"/><path d="M535.12 311L545.12 321M545.12 311L535.12 321M540.12 311L540.12 321" stroke="#2a86a9" stroke-width="1.1" fill="none"/><path d="M545.26 304L555.26 314M555.26 304L545.26 314M550.26 304L550.26 314" stroke="#2a86a9" stroke-width="1.1" fill="none"/><path d="M555.41 274.6L565.41 284.6M565.41 274.6L555.41 284.6M560.41 274.6L560.41 284.6" stroke="#2a86a9" stroke-width="1.1" fill="none"/><path d="M565.55 313.6L575.55 323.6M575.55 313.6L565.55 323.6M570.55 313.6L570.55 323.6" stroke="#2a86a9" stroke-width="1.1" fill="none"/><path d="M575.69 308.1L585.69 318.1M585.69 308.1L575.69 318.1M580.69 308.1L580.69 318.1" stroke="#2a86a9" stroke-width="1.1" fill="none"/><path d="M585.83 304L595.83 314M595.83 304L585.83 314M590.83 304L590.83 314" stroke="#2a86a9" stroke-width="1.1" fill="none"/><path d="M595.98 327L605.98 337M605.98 327L595.98 337M600.98 327L600.98 337" stroke="#2a86a9" stroke-width="1.1" fill="none"/><path d="M606.12 377.6L616.12 387.6M616.12 377.6L606.12 387.6M611.12 377.6L611.12 387.6" stroke="#2a86a9" stroke-width="1.1" fill="none"/><path d="M616.26 364.5L626.26 374.5M626.26 364.5L616.26 374.5M621.26 364.5L621.26 374.5" stroke="#2a86a9" stroke-width="1.1" fill="none"/><path d="M626.41 310.3L636.41 320.3M636.41 310.3L626.41 320.3M631.41 310.3L631.41 320.3" stroke="#2a86a9" stroke-width="1.1" fill="none"/><path d="M636.55 309.6L646.55 319.6M646.55 309.6L636.55 319.6M641.55 309.6L641.55 319.6" stroke="#2a86a9" stroke-width="1.1" fill="none"/><path d="M646.69 349.5L656.69 359.5M656.69 349.5L646.69 359.5M651.69 349.5L651.69 359.5" stroke="#2a86a9" stroke-width="1.1" fill="none"/><path d="M656.84 316.5L666.84 326.5M666.84 316.5L656.84 326.5M661.84 316.5L661.84 326.5" stroke="#2a86a9" stroke-width="1.1" fill="none"/><path d="M666.98 330L676.98 340M676.98 330L666.98 340M671.98 330L671.98 340" stroke="#2a86a9" stroke-width="1.1" fill="none"/><path d="M677.12 363.1L687.12 373.1M687.12 363.1L677.12 373.1M682.12 363.1L682.12 373.1" stroke="#2a86a9" stroke-width="1.1" fill="none"/><path d="M687.26 371.8L697.26 381.8M697.26 371.8L687.26 381.8M692.26 371.8L692.26 381.8" stroke="#2a86a9" stroke-width="1.1" fill="none"/><path d="M697.41 319.3L707.41 329.3M707.41 319.3L697.41 329.3M702.41 319.3L702.41 329.3" stroke="#2a86a9" stroke-width="1.1" fill="none"/><path d="M707.55 318.3L717.55 328.3M717.55 318.3L707.55 328.3M712.55 318.3L712.55 328.3" stroke="#2a86a9" stroke-width="1.1" fill="none"/>
<polyline points="296.69,323 306.83,261 316.97,284.4 327.12,286.7 337.26,267.7 347.4,245.5 357.55,257.1 367.69,261.8 377.83,286.7 387.97,298.9 398.12,269.6" fill="none" stroke="#d85a1e" stroke-width="2.3" stroke-linejoin="round" stroke-linecap="round"/><circle cx="296.69" cy="323" r="4.8" fill="#d85a1e" stroke="#cc4e16" stroke-width="0.8"/><circle cx="306.83" cy="261" r="4.8" fill="#d85a1e" stroke="#cc4e16" stroke-width="0.8"/><circle cx="316.97" cy="284.4" r="4.8" fill="#d85a1e" stroke="#cc4e16" stroke-width="0.8"/><circle cx="327.12" cy="286.7" r="4.8" fill="#d85a1e" stroke="#cc4e16" stroke-width="0.8"/><circle cx="337.26" cy="267.7" r="4.8" fill="#d85a1e" stroke="#cc4e16" stroke-width="0.8"/><circle cx="347.4" cy="245.5" r="4.8" fill="#d85a1e" stroke="#cc4e16" stroke-width="0.8"/><circle cx="357.55" cy="257.1" r="4.8" fill="#d85a1e" stroke="#cc4e16" stroke-width="0.8"/><circle cx="367.69" cy="261.8" r="4.8" fill="#d85a1e" stroke="#cc4e16" stroke-width="0.8"/><circle cx="377.83" cy="286.7" r="4.8" fill="#d85a1e" stroke="#cc4e16" stroke-width="0.8"/><circle cx="387.97" cy="298.9" r="4.8" fill="#d85a1e" stroke="#cc4e16" stroke-width="0.8"/><circle cx="398.12" cy="269.6" r="4.8" fill="#d85a1e" stroke="#cc4e16" stroke-width="0.8"/>
<polyline points="205.4,508 215.54,508 225.69,302 235.83,309.8 245.97,292 256.12,305.2 266.26,312.2 276.4,271.7 286.54,265.2 296.69,282 306.83,273.5 316.97,283.6 327.12,263.4 337.26,285.2 347.4,263.4 357.55,240.5 367.69,253.5 377.83,258 387.97,271.2 398.12,318.7 408.26,342.8 418.4,292.2 428.55,272.7 438.69,303 448.83,281.2 458.98,250.1 469.12,276.5 479.26,262.5 489.4,212.4" fill="none" stroke="#4774be" stroke-width="2.1" stroke-linejoin="round" stroke-linecap="round"/><path d="M221.19 302L230.19 302M225.69 297.5L225.69 306.5" stroke="#4774be" stroke-width="1.3" fill="none"/><path d="M231.33 309.8L240.33 309.8M235.83 305.3L235.83 314.3" stroke="#4774be" stroke-width="1.3" fill="none"/><path d="M241.47 292L250.47 292M245.97 287.5L245.97 296.5" stroke="#4774be" stroke-width="1.3" fill="none"/><path d="M251.62 305.2L260.62 305.2M256.12 300.7L256.12 309.7" stroke="#4774be" stroke-width="1.3" fill="none"/><path d="M261.76 312.2L270.76 312.2M266.26 307.7L266.26 316.7" stroke="#4774be" stroke-width="1.3" fill="none"/><path d="M271.9 271.7L280.9 271.7M276.4 267.2L276.4 276.2" stroke="#4774be" stroke-width="1.3" fill="none"/><path d="M282.04 265.2L291.04 265.2M286.54 260.7L286.54 269.7" stroke="#4774be" stroke-width="1.3" fill="none"/><path d="M292.19 282L301.19 282M296.69 277.5L296.69 286.5" stroke="#4774be" stroke-width="1.3" fill="none"/><path d="M302.33 273.5L311.33 273.5M306.83 269L306.83 278" stroke="#4774be" stroke-width="1.3" fill="none"/><path d="M312.47 283.6L321.47 283.6M316.97 279.1L316.97 288.1" stroke="#4774be" stroke-width="1.3" fill="none"/><path d="M322.62 263.4L331.62 263.4M327.12 258.9L327.12 267.9" stroke="#4774be" stroke-width="1.3" fill="none"/><path d="M332.76 285.2L341.76 285.2M337.26 280.7L337.26 289.7" stroke="#4774be" stroke-width="1.3" fill="none"/><path d="M342.9 263.4L351.9 263.4M347.4 258.9L347.4 267.9" stroke="#4774be" stroke-width="1.3" fill="none"/><path d="M353.05 240.5L362.05 240.5M357.55 236L357.55 245" stroke="#4774be" stroke-width="1.3" fill="none"/><path d="M363.19 253.5L372.19 253.5M367.69 249L367.69 258" stroke="#4774be" stroke-width="1.3" fill="none"/><path d="M373.33 258L382.33 258M377.83 253.5L377.83 262.5" stroke="#4774be" stroke-width="1.3" fill="none"/><path d="M383.47 271.2L392.47 271.2M387.97 266.7L387.97 275.7" stroke="#4774be" stroke-width="1.3" fill="none"/><path d="M393.62 318.7L402.62 318.7M398.12 314.2L398.12 323.2" stroke="#4774be" stroke-width="1.3" fill="none"/><path d="M403.76 342.8L412.76 342.8M408.26 338.3L408.26 347.3" stroke="#4774be" stroke-width="1.3" fill="none"/><path d="M413.9 292.2L422.9 292.2M418.4 287.7L418.4 296.7" stroke="#4774be" stroke-width="1.3" fill="none"/><path d="M424.05 272.7L433.05 272.7M428.55 268.2L428.55 277.2" stroke="#4774be" stroke-width="1.3" fill="none"/><path d="M434.19 303L443.19 303M438.69 298.5L438.69 307.5" stroke="#4774be" stroke-width="1.3" fill="none"/><path d="M444.33 281.2L453.33 281.2M448.83 276.7L448.83 285.7" stroke="#4774be" stroke-width="1.3" fill="none"/><path d="M454.48 250.1L463.48 250.1M458.98 245.6L458.98 254.6" stroke="#4774be" stroke-width="1.3" fill="none"/><path d="M464.62 276.5L473.62 276.5M469.12 272L469.12 281" stroke="#4774be" stroke-width="1.3" fill="none"/><path d="M474.76 262.5L483.76 262.5M479.26 258L479.26 267" stroke="#4774be" stroke-width="1.3" fill="none"/><path d="M484.9 212.4L493.9 212.4M489.4 207.9L489.4 216.9" stroke="#4774be" stroke-width="1.3" fill="none"/>
<polyline points="144.54,322.8 174.97,357 185.11,369.5 195.26,389.7 205.4,333.7 215.54,332.3 225.69,309.8 235.83,321.5 245.97,345.4 256.12,390 266.26,400.9 276.4,338.9 286.54,309.8 296.69,290.6 306.83,297.6 316.97,312.6 327.12,360 337.26,363.2 347.4,254.8 357.55,246.2 367.69,294.5 377.83,296.1 387.97,314 398.12,337.5 408.26,324.6 418.4,261.8 428.55,232.7 438.69,227.9 448.83,225.2 458.98,224.5 469.12,283 479.26,303.9" fill="none" stroke="#c04e4b" stroke-width="1.95" stroke-linejoin="round" stroke-linecap="round"/><rect x="143.54" y="321.55" width="6.5" height="2.5" fill="#c04e4b"/><rect x="173.97" y="355.75" width="6.5" height="2.5" fill="#c04e4b"/><rect x="184.11" y="368.25" width="6.5" height="2.5" fill="#c04e4b"/><rect x="194.26" y="388.45" width="6.5" height="2.5" fill="#c04e4b"/><rect x="204.4" y="332.45" width="6.5" height="2.5" fill="#c04e4b"/><rect x="214.54" y="331.05" width="6.5" height="2.5" fill="#c04e4b"/><rect x="224.69" y="308.55" width="6.5" height="2.5" fill="#c04e4b"/><rect x="234.83" y="320.25" width="6.5" height="2.5" fill="#c04e4b"/><rect x="244.97" y="344.15" width="6.5" height="2.5" fill="#c04e4b"/><rect x="255.12" y="388.75" width="6.5" height="2.5" fill="#c04e4b"/><rect x="265.26" y="399.65" width="6.5" height="2.5" fill="#c04e4b"/><rect x="275.4" y="337.65" width="6.5" height="2.5" fill="#c04e4b"/><rect x="285.54" y="308.55" width="6.5" height="2.5" fill="#c04e4b"/><rect x="295.69" y="289.35" width="6.5" height="2.5" fill="#c04e4b"/><rect x="305.83" y="296.35" width="6.5" height="2.5" fill="#c04e4b"/><rect x="315.97" y="311.35" width="6.5" height="2.5" fill="#c04e4b"/><rect x="326.12" y="358.75" width="6.5" height="2.5" fill="#c04e4b"/><rect x="336.26" y="361.95" width="6.5" height="2.5" fill="#c04e4b"/><rect x="346.4" y="253.55" width="6.5" height="2.5" fill="#c04e4b"/><rect x="356.55" y="244.95" width="6.5" height="2.5" fill="#c04e4b"/><rect x="366.69" y="293.25" width="6.5" height="2.5" fill="#c04e4b"/><rect x="376.83" y="294.85" width="6.5" height="2.5" fill="#c04e4b"/><rect x="386.97" y="312.75" width="6.5" height="2.5" fill="#c04e4b"/><rect x="397.12" y="336.25" width="6.5" height="2.5" fill="#c04e4b"/><rect x="407.26" y="323.35" width="6.5" height="2.5" fill="#c04e4b"/><rect x="417.4" y="260.55" width="6.5" height="2.5" fill="#c04e4b"/><rect x="427.55" y="231.45" width="6.5" height="2.5" fill="#c04e4b"/><rect x="437.69" y="226.65" width="6.5" height="2.5" fill="#c04e4b"/><rect x="447.83" y="223.95" width="6.5" height="2.5" fill="#c04e4b"/><rect x="457.98" y="223.25" width="6.5" height="2.5" fill="#c04e4b"/><rect x="468.12" y="281.75" width="6.5" height="2.5" fill="#c04e4b"/><rect x="478.26" y="302.65" width="6.5" height="2.5" fill="#c04e4b"/>
<polyline points="103.97,269.3 114.11,270.6 124.26,293.9 134.4,272.9 144.54,271.3 174.97,284.6 185.11,451" fill="none" stroke="#9bbb59" stroke-width="2.1" stroke-linejoin="round" stroke-linecap="round"/><rect x="99.22" y="267.9" width="9.5" height="2.8" fill="#9bbb59"/><rect x="109.36" y="269.2" width="9.5" height="2.8" fill="#9bbb59"/><rect x="119.51" y="292.5" width="9.5" height="2.8" fill="#9bbb59"/><rect x="129.65" y="271.5" width="9.5" height="2.8" fill="#9bbb59"/><rect x="139.79" y="269.9" width="9.5" height="2.8" fill="#9bbb59"/><rect x="170.22" y="283.2" width="9.5" height="2.8" fill="#9bbb59"/>
<polyline points="103.97,314.1 114.11,312.6 124.26,288.5 134.4,284.3 144.54,286.9 174.97,283.8 185.11,314.9 195.26,296.7 205.4,293.5 215.54,295.5 225.69,291.2 235.83,304.4 245.97,303.3 256.12,316.4" fill="none" stroke="#7d62a3" stroke-width="2.3" stroke-linejoin="round" stroke-linecap="round"/><path d="M103.97 309.1L108.97 314.1L103.97 319.1L98.97 314.1Z" fill="#7d62a3" stroke="#765b9c" stroke-width="0.8"/><path d="M114.11 307.6L119.11 312.6L114.11 317.6L109.11 312.6Z" fill="#7d62a3" stroke="#765b9c" stroke-width="0.8"/><path d="M124.26 283.5L129.26 288.5L124.26 293.5L119.26 288.5Z" fill="#7d62a3" stroke="#765b9c" stroke-width="0.8"/><path d="M134.4 279.3L139.4 284.3L134.4 289.3L129.4 284.3Z" fill="#7d62a3" stroke="#765b9c" stroke-width="0.8"/><path d="M144.54 281.9L149.54 286.9L144.54 291.9L139.54 286.9Z" fill="#7d62a3" stroke="#765b9c" stroke-width="0.8"/><path d="M174.97 278.8L179.97 283.8L174.97 288.8L169.97 283.8Z" fill="#7d62a3" stroke="#765b9c" stroke-width="0.8"/><path d="M185.11 309.9L190.11 314.9L185.11 319.9L180.11 314.9Z" fill="#7d62a3" stroke="#765b9c" stroke-width="0.8"/><path d="M195.26 291.7L200.26 296.7L195.26 301.7L190.26 296.7Z" fill="#7d62a3" stroke="#765b9c" stroke-width="0.8"/><path d="M205.4 288.5L210.4 293.5L205.4 298.5L200.4 293.5Z" fill="#7d62a3" stroke="#765b9c" stroke-width="0.8"/><path d="M215.54 290.5L220.54 295.5L215.54 300.5L210.54 295.5Z" fill="#7d62a3" stroke="#765b9c" stroke-width="0.8"/><path d="M225.69 286.2L230.69 291.2L225.69 296.2L220.69 291.2Z" fill="#7d62a3" stroke="#765b9c" stroke-width="0.8"/><path d="M235.83 299.4L240.83 304.4L235.83 309.4L230.83 304.4Z" fill="#7d62a3" stroke="#765b9c" stroke-width="0.8"/><path d="M245.97 298.3L250.97 303.3L245.97 308.3L240.97 303.3Z" fill="#7d62a3" stroke="#765b9c" stroke-width="0.8"/><path d="M256.12 311.4L261.12 316.4L256.12 321.4L251.12 316.4Z" fill="#7d62a3" stroke="#765b9c" stroke-width="0.8"/></g>
<g class="lg"><line x1="744.4" y1="140.9" x2="772.8" y2="140.9" stroke="#1c3a7a" stroke-width="2.3"/>
<path d="M758.6 137.15L762.35 140.9L758.6 144.65L754.85 140.9Z" fill="#1c3a7a" stroke="#1a3670" stroke-width="0.8"/>
<text x="774.6" y="145.2" textLength="51" lengthAdjust="spacingAndGlyphs">Shnakule</text>
<line x1="744.4" y1="165.29" x2="772.8" y2="165.29" stroke="#862a25" stroke-width="2.3"/>
<rect x="754.35" y="161.04" width="8.5" height="8.5" fill="#862a25" stroke="#7a2420" stroke-width="0.8"/>
<text x="774.6" y="169.59" textLength="41" lengthAdjust="spacingAndGlyphs">Ishabor</text>
<line x1="744.4" y1="189.68" x2="772.8" y2="189.68" stroke="#5a8a2a" stroke-width="2.3"/>
<path d="M758.6 185.18L763.1 194.18L754.1 194.18Z" fill="#5a8a2a" stroke="#4f7a22" stroke-width="0.8" stroke-linejoin="round"/>
<text x="774.6" y="193.98" textLength="39.7" lengthAdjust="spacingAndGlyphs">Cinbric</text>
<line x1="744.4" y1="214.07" x2="772.8" y2="214.07" stroke="#28174d" stroke-width="2.3"/>
<path d="M754.35 209.82L762.85 218.32M762.85 209.82L754.35 218.32" stroke="#6a4b9a" stroke-width="1.2" fill="none"/>
<text x="774.6" y="218.37" textLength="39.7" lengthAdjust="spacingAndGlyphs">Naargo</text>
<line x1="744.4" y1="238.46" x2="772.8" y2="238.46" stroke="#135f86" stroke-width="2.3"/>
<path d="M754.35 234.21L762.85 242.71M762.85 234.21L754.35 242.71M758.6 234.21L758.6 242.71" stroke="#2a86a9" stroke-width="1.2" fill="none"/>
<text x="774.6" y="242.76" textLength="51.3" lengthAdjust="spacingAndGlyphs">Vidzeban</text>
<line x1="744.4" y1="262.85" x2="772.8" y2="262.85" stroke="#d85a1e" stroke-width="2.3"/>
<circle cx="758.6" cy="262.85" r="4.5" fill="#d85a1e" stroke="#cc4e16" stroke-width="0.8"/>
<text x="774.6" y="267.15" textLength="43.8" lengthAdjust="spacingAndGlyphs">Thonaki</text>
<line x1="744.4" y1="287.24" x2="772.8" y2="287.24" stroke="#4774be" stroke-width="2.3"/>
<path d="M754.1 287.24L763.1 287.24M758.6 282.74L758.6 291.74" stroke="#4774be" stroke-width="1.3" fill="none"/>
<text x="774.6" y="291.54" textLength="40.7" lengthAdjust="spacingAndGlyphs">Kulerib</text>
<line x1="744.4" y1="311.63" x2="772.8" y2="311.63" stroke="#c04e4b" stroke-width="2.3"/>
<rect x="758.5" y="311.88" width="6.5" height="2.5" fill="#c04e4b"/>
<text x="774.6" y="315.93" textLength="54.5" lengthAdjust="spacingAndGlyphs">Rabricote</text>
<line x1="744.4" y1="336.02" x2="772.8" y2="336.02" stroke="#9bbb59" stroke-width="2.3"/>
<text x="774.6" y="340.32" textLength="57.3" lengthAdjust="spacingAndGlyphs">Ananghee</text>
<line x1="744.4" y1="360.41" x2="772.8" y2="360.41" stroke="#7d62a3" stroke-width="2.3"/>
<path d="M758.6 356.66L762.35 360.41L758.6 364.16L754.85 360.41Z" fill="#7d62a3" stroke="#765b9c" stroke-width="0.8"/>
<text x="774.6" y="364.71" textLength="61.5" lengthAdjust="spacingAndGlyphs">Albricpana</text></g>
<text class="t" x="13" y="507.7" font-size="17.8" stroke="#1a1a1a" stroke-width="0.35" textLength="255" lengthAdjust="spacingAndGlyphs">Source: Blue Coat Security Labs</text>
</svg>
</body></html>
